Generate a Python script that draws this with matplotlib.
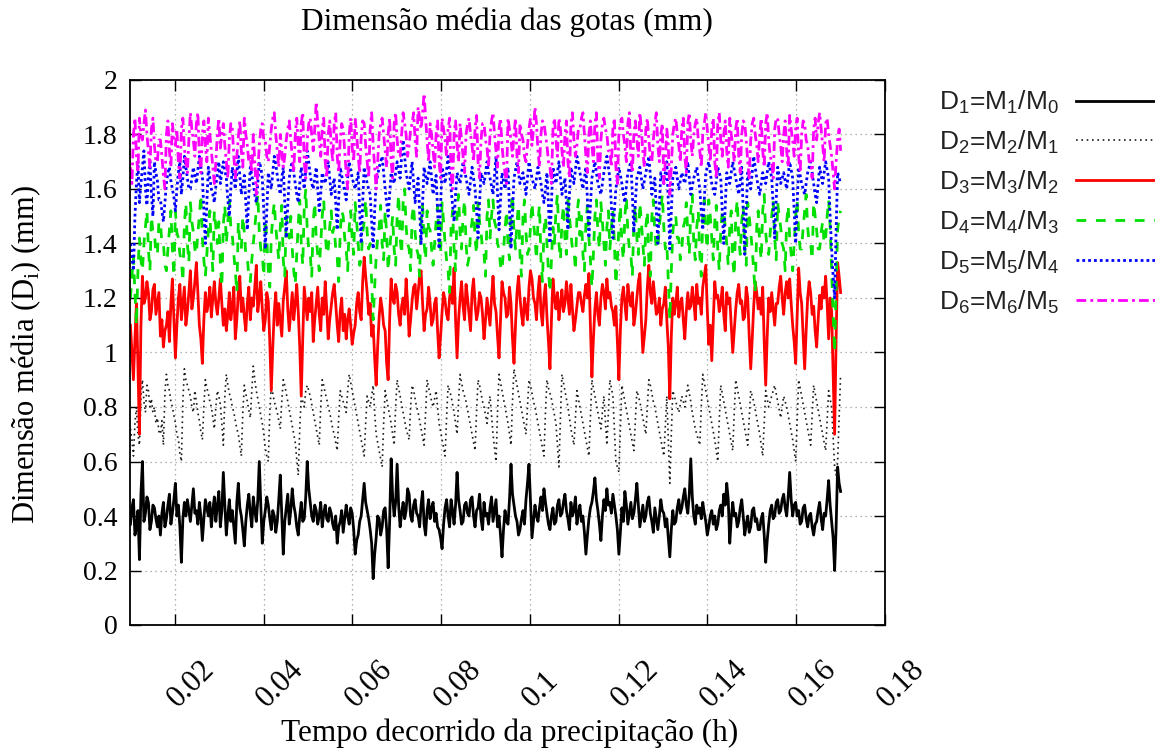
import numpy as np
import matplotlib
matplotlib.use("Agg")
import matplotlib.pyplot as plt
from matplotlib.transforms import blended_transform_factory, ScaledTranslation

# Elapsed-time span of the record (hours)
T_START = 0.0100
T_END = 0.1700

# Mean drop diameters D_i = M_i / M_(i-1)  (mm), equally spaced in time
d1 = [0.37, 0.43, 0.46, 0.33, 0.36, 0.42, 0.24, 0.48, 0.60, 0.38, 0.41, 0.47, 0.45, 0.35, 0.38, 0.44, 0.43, 0.39, 0.36, 0.40,
      0.33, 0.41, 0.45, 0.36, 0.39, 0.44, 0.48, 0.37, 0.41, 0.46, 0.52, 0.40, 0.44, 0.36, 0.23, 0.39, 0.45, 0.40, 0.46, 0.42,
      0.38, 0.44, 0.50, 0.41, 0.42, 0.37, 0.45, 0.40, 0.31, 0.39, 0.46, 0.43, 0.40, 0.45, 0.36, 0.42, 0.47, 0.38, 0.44, 0.49,
      0.36, 0.42, 0.56, 0.44, 0.33, 0.40, 0.46, 0.38, 0.42, 0.36, 0.30, 0.45, 0.52, 0.43, 0.40, 0.35, 0.29, 0.38, 0.44, 0.48,
      0.41, 0.36, 0.47, 0.42, 0.38, 0.46, 0.60, 0.44, 0.30, 0.38, 0.42, 0.47, 0.44, 0.39, 0.35, 0.42, 0.40, 0.34, 0.38, 0.46,
      0.55, 0.40, 0.26, 0.38, 0.43, 0.48, 0.37, 0.42, 0.50, 0.44, 0.41, 0.36, 0.33, 0.40, 0.45, 0.38, 0.39, 0.47, 0.60, 0.50,
      0.45, 0.40, 0.38, 0.44, 0.42, 0.37, 0.40, 0.45, 0.36, 0.41, 0.44, 0.39, 0.38, 0.43, 0.41, 0.37, 0.35, 0.40, 0.30, 0.36,
      0.38, 0.42, 0.34, 0.39, 0.44, 0.40, 0.37, 0.43, 0.41, 0.35, 0.26, 0.31, 0.33, 0.38, 0.40, 0.46, 0.52, 0.45, 0.42, 0.39,
      0.35, 0.30, 0.17, 0.26, 0.32, 0.40, 0.39, 0.33, 0.36, 0.42, 0.43, 0.35, 0.21, 0.38, 0.61, 0.47, 0.40, 0.45, 0.59, 0.44,
      0.36, 0.41, 0.45, 0.39, 0.42, 0.50, 0.48, 0.40, 0.38, 0.44, 0.46, 0.41, 0.40, 0.36, 0.44, 0.49, 0.37, 0.33, 0.42, 0.46,
      0.39, 0.43, 0.45, 0.38, 0.41, 0.36, 0.35, 0.32, 0.28, 0.37, 0.43, 0.46, 0.40, 0.36, 0.46, 0.42, 0.37, 0.44, 0.56, 0.46,
      0.42, 0.37, 0.38, 0.44, 0.45, 0.41, 0.40, 0.46, 0.47, 0.40, 0.36, 0.42, 0.43, 0.48, 0.39, 0.35, 0.45, 0.40, 0.41, 0.37,
      0.43, 0.47, 0.38, 0.42, 0.46, 0.36, 0.40, 0.33, 0.25, 0.35, 0.42, 0.38, 0.37, 0.46, 0.59, 0.48, 0.44, 0.40, 0.38, 0.33,
      0.35, 0.39, 0.42, 0.37, 0.46, 0.52, 0.59, 0.45, 0.32, 0.38, 0.44, 0.40, 0.38, 0.43, 0.47, 0.42, 0.50, 0.45, 0.41, 0.37,
      0.35, 0.40, 0.43, 0.37, 0.38, 0.44, 0.46, 0.40, 0.41, 0.45, 0.48, 0.42, 0.39, 0.35, 0.45, 0.40, 0.42, 0.47, 0.37, 0.41,
      0.44, 0.38, 0.40, 0.34, 0.26, 0.33, 0.39, 0.43, 0.45, 0.49, 0.54, 0.46, 0.42, 0.37, 0.31, 0.40, 0.46, 0.42, 0.50, 0.44,
      0.45, 0.41, 0.48, 0.44, 0.40, 0.35, 0.26, 0.34, 0.43, 0.38, 0.49, 0.44, 0.37, 0.41, 0.45, 0.39, 0.41, 0.46, 0.52, 0.44,
      0.36, 0.40, 0.44, 0.38, 0.40, 0.45, 0.47, 0.41, 0.38, 0.34, 0.43, 0.39, 0.35, 0.40, 0.46, 0.42, 0.41, 0.36, 0.39, 0.32,
      0.25, 0.35, 0.42, 0.37, 0.38, 0.43, 0.46, 0.41, 0.43, 0.47, 0.50, 0.44, 0.41, 0.48, 0.61, 0.47, 0.40, 0.37, 0.44, 0.41,
      0.43, 0.39, 0.45, 0.41, 0.38, 0.33, 0.36, 0.40, 0.42, 0.37, 0.40, 0.35, 0.37, 0.42, 0.44, 0.40, 0.48, 0.44, 0.52, 0.46,
      0.30, 0.39, 0.45, 0.40, 0.41, 0.36, 0.38, 0.43, 0.46, 0.40, 0.33, 0.37, 0.40, 0.34, 0.36, 0.42, 0.43, 0.38, 0.39, 0.35,
      0.35, 0.39, 0.41, 0.33, 0.23, 0.31, 0.37, 0.42, 0.44, 0.39, 0.40, 0.45, 0.46, 0.41, 0.42, 0.46, 0.48, 0.43, 0.40, 0.47,
      0.56, 0.46, 0.40, 0.44, 0.45, 0.40, 0.42, 0.37, 0.38, 0.43, 0.44, 0.39, 0.36, 0.40, 0.41, 0.36, 0.33, 0.37, 0.38, 0.42,
      0.45, 0.39, 0.35, 0.41, 0.40, 0.46, 0.53, 0.44, 0.38, 0.32, 0.20, 0.36, 0.58, 0.52, 0.49]

d2 = [0.72, 0.68, 0.62, 0.74, 0.80, 0.70, 0.66, 0.84, 0.90, 0.82, 0.78, 0.88, 0.86, 0.80, 0.83, 0.78, 0.80, 0.74, 0.76, 0.71,
      0.70, 0.75, 0.66, 0.85, 0.92, 0.88, 0.86, 0.82, 0.80, 0.77, 0.74, 0.70, 0.68, 0.63, 0.60, 0.82, 0.94, 0.90, 0.88, 0.86,
      0.84, 0.80, 0.78, 0.86, 0.82, 0.78, 0.75, 0.71, 0.68, 0.80, 0.90, 0.87, 0.85, 0.82, 0.80, 0.76, 0.72, 0.80, 0.86, 0.84,
      0.81, 0.74, 0.66, 0.84, 0.92, 0.88, 0.85, 0.83, 0.80, 0.78, 0.75, 0.72, 0.70, 0.66, 0.62, 0.78, 0.88, 0.85, 0.82, 0.79,
      0.76, 0.86, 0.95, 0.90, 0.86, 0.83, 0.80, 0.77, 0.74, 0.70, 0.65, 0.62, 0.60, 0.78, 0.88, 0.85, 0.82, 0.80, 0.78, 0.75,
      0.72, 0.82, 0.90, 0.88, 0.85, 0.82, 0.79, 0.76, 0.73, 0.70, 0.67, 0.61, 0.55, 0.72, 0.84, 0.82, 0.80, 0.86, 0.88, 0.86,
      0.84, 0.81, 0.78, 0.75, 0.72, 0.69, 0.66, 0.80, 0.90, 0.88, 0.85, 0.83, 0.80, 0.78, 0.75, 0.72, 0.70, 0.67, 0.64, 0.76,
      0.86, 0.84, 0.82, 0.80, 0.78, 0.86, 0.92, 0.89, 0.86, 0.83, 0.80, 0.77, 0.74, 0.71, 0.68, 0.65, 0.62, 0.74, 0.84, 0.82,
      0.80, 0.84, 0.88, 0.78, 0.70, 0.67, 0.64, 0.61, 0.58, 0.74, 0.86, 0.83, 0.80, 0.77, 0.74, 0.70, 0.66, 0.80, 0.90, 0.87,
      0.84, 0.81, 0.78, 0.75, 0.72, 0.70, 0.68, 0.80, 0.88, 0.86, 0.83, 0.80, 0.78, 0.75, 0.72, 0.69, 0.66, 0.78, 0.90, 0.87,
      0.85, 0.82, 0.80, 0.83, 0.86, 0.80, 0.74, 0.71, 0.68, 0.65, 0.62, 0.76, 0.88, 0.86, 0.84, 0.81, 0.78, 0.74, 0.70, 0.82,
      0.92, 0.89, 0.86, 0.84, 0.82, 0.79, 0.76, 0.73, 0.70, 0.67, 0.64, 0.78, 0.90, 0.88, 0.85, 0.82, 0.80, 0.77, 0.74, 0.80,
      0.84, 0.77, 0.70, 0.65, 0.60, 0.78, 0.92, 0.89, 0.86, 0.83, 0.80, 0.77, 0.74, 0.70, 0.66, 0.82, 0.94, 0.91, 0.88, 0.85,
      0.82, 0.79, 0.76, 0.73, 0.70, 0.80, 0.90, 0.88, 0.85, 0.82, 0.80, 0.77, 0.74, 0.71, 0.68, 0.65, 0.62, 0.78, 0.90, 0.87,
      0.85, 0.83, 0.80, 0.77, 0.74, 0.66, 0.58, 0.76, 0.92, 0.89, 0.86, 0.83, 0.80, 0.76, 0.72, 0.69, 0.66, 0.76, 0.86, 0.83,
      0.80, 0.77, 0.74, 0.71, 0.68, 0.65, 0.62, 0.76, 0.90, 0.87, 0.84, 0.81, 0.78, 0.75, 0.72, 0.78, 0.84, 0.75, 0.66, 0.78,
      0.90, 0.87, 0.84, 0.72, 0.60, 0.58, 0.56, 0.72, 0.88, 0.85, 0.82, 0.79, 0.76, 0.73, 0.70, 0.67, 0.64, 0.75, 0.86, 0.84,
      0.82, 0.79, 0.76, 0.73, 0.70, 0.80, 0.90, 0.88, 0.85, 0.82, 0.80, 0.77, 0.74, 0.71, 0.68, 0.65, 0.62, 0.73, 0.84, 0.68,
      0.52, 0.70, 0.86, 0.84, 0.82, 0.80, 0.78, 0.81, 0.84, 0.82, 0.80, 0.84, 0.88, 0.85, 0.82, 0.78, 0.75, 0.72, 0.70, 0.68,
      0.66, 0.80, 0.92, 0.89, 0.86, 0.83, 0.80, 0.77, 0.74, 0.71, 0.68, 0.64, 0.60, 0.75, 0.88, 0.85, 0.82, 0.79, 0.76, 0.73,
      0.70, 0.67, 0.64, 0.78, 0.90, 0.87, 0.84, 0.81, 0.78, 0.75, 0.72, 0.69, 0.66, 0.76, 0.86, 0.84, 0.82, 0.79, 0.76, 0.73,
      0.70, 0.66, 0.62, 0.74, 0.86, 0.83, 0.80, 0.82, 0.84, 0.86, 0.88, 0.85, 0.82, 0.79, 0.76, 0.80, 0.84, 0.82, 0.80, 0.77,
      0.74, 0.71, 0.68, 0.64, 0.60, 0.75, 0.90, 0.87, 0.84, 0.81, 0.78, 0.75, 0.72, 0.69, 0.66, 0.77, 0.88, 0.85, 0.82, 0.79,
      0.76, 0.73, 0.70, 0.67, 0.64, 0.75, 0.86, 0.83, 0.80, 0.69, 0.58, 0.55, 0.60, 0.76, 0.92]

d3 = [1.10, 1.00, 0.90, 1.05, 1.18, 0.95, 0.70, 1.10, 1.28, 1.18, 1.20, 1.26, 1.22, 1.12, 1.15, 1.23, 1.25, 1.14, 1.18, 1.22,
      1.06, 1.12, 1.02, 1.08, 1.10, 1.15, 1.04, 1.18, 1.27, 1.12, 0.98, 1.10, 1.20, 1.25, 1.12, 1.18, 1.24, 1.10, 1.15, 1.22,
      1.30, 1.16, 1.20, 1.26, 1.33, 1.22, 1.10, 1.05, 0.96, 1.12, 1.22, 1.15, 1.18, 1.24, 1.13, 1.20, 1.26, 1.18, 1.14, 1.20,
      1.27, 1.18, 1.10, 1.16, 1.08, 1.14, 1.22, 1.12, 1.17, 1.24, 1.05, 1.12, 1.22, 1.28, 1.15, 1.20, 1.13, 1.08, 1.18, 1.24,
      1.12, 1.20, 1.17, 1.24, 1.32, 1.15, 1.20, 1.26, 1.16, 1.08, 1.12, 1.22, 1.19, 1.04, 0.86, 1.02, 1.15, 1.22, 1.10, 1.18,
      1.12, 1.06, 1.19, 1.24, 1.30, 1.16, 1.08, 1.15, 1.22, 1.12, 1.18, 1.25, 1.15, 1.02, 0.84, 1.05, 1.24, 1.18, 1.12, 1.20,
      1.15, 1.22, 1.04, 1.12, 1.18, 1.24, 1.14, 1.08, 1.20, 1.14, 1.26, 1.16, 1.05, 1.12, 1.17, 1.22, 1.25, 1.18, 1.10, 1.04,
      1.15, 1.20, 1.08, 1.14, 1.05, 1.12, 1.16, 1.10, 1.03, 1.07, 1.10, 1.18, 1.22, 1.15, 1.12, 1.26, 1.35, 1.28, 1.22, 1.14,
      1.18, 1.06, 1.10, 0.98, 0.88, 1.02, 1.13, 1.20, 1.16, 1.10, 1.08, 0.96, 0.90, 1.12, 1.27, 1.20, 1.18, 1.25, 1.22, 1.14,
      1.10, 1.17, 1.20, 1.14, 1.27, 1.18, 1.06, 1.12, 1.19, 1.24, 1.25, 1.16, 1.22, 1.28, 1.30, 1.18, 1.08, 1.14, 1.16, 1.24,
      1.18, 1.10, 1.12, 1.18, 1.20, 1.08, 0.98, 1.06, 1.15, 1.22, 1.19, 1.14, 1.12, 1.20, 1.24, 1.18, 1.31, 1.12, 0.98, 1.12,
      1.20, 1.26, 1.17, 1.12, 1.25, 1.20, 1.14, 1.08, 1.22, 1.27, 1.18, 1.12, 1.15, 1.22, 1.20, 1.14, 1.05, 1.12, 1.20, 1.15,
      1.10, 1.20, 1.28, 1.18, 1.15, 1.06, 0.98, 1.12, 1.26, 1.22, 1.20, 1.13, 1.14, 1.24, 1.18, 1.05, 0.96, 1.10, 1.22, 1.28,
      1.20, 1.14, 1.10, 1.20, 1.16, 1.12, 1.24, 1.30, 1.27, 1.20, 1.18, 1.12, 1.22, 1.28, 1.15, 1.10, 1.20, 1.25, 1.13, 1.04,
      0.94, 1.12, 1.27, 1.20, 1.16, 1.22, 1.12, 1.18, 1.23, 1.15, 1.18, 1.26, 1.20, 1.14, 1.25, 1.16, 1.08, 1.12, 1.17, 1.22,
      1.22, 1.18, 1.15, 1.21, 1.25, 1.20, 1.29, 1.10, 0.91, 1.05, 1.16, 1.22, 1.14, 1.10, 1.20, 1.25, 1.22, 1.16, 1.27, 1.20,
      1.22, 1.17, 1.15, 1.10, 1.17, 1.04, 0.90, 1.08, 1.20, 1.24, 1.18, 1.12, 1.25, 1.20, 1.17, 1.22, 1.10, 1.14, 1.20, 1.26,
      1.29, 1.12, 1.00, 1.06, 1.12, 1.24, 1.32, 1.22, 1.18, 1.26, 1.20, 1.14, 1.15, 1.20, 1.10, 1.16, 1.18, 1.24, 1.12, 1.02,
      0.83, 1.06, 1.20, 1.14, 1.18, 1.24, 1.13, 1.18, 1.20, 1.12, 1.05, 1.15, 1.22, 1.16, 1.17, 1.24, 1.19, 1.12, 1.25, 1.18,
      1.20, 1.14, 1.24, 1.28, 1.32, 1.16, 1.03, 1.10, 0.97, 1.12, 1.26, 1.20, 1.21, 1.15, 1.18, 1.24, 1.14, 1.08, 1.22, 1.18,
      1.20, 1.10, 1.00, 1.08, 1.16, 1.22, 1.25, 1.18, 1.19, 1.12, 1.13, 1.24, 1.20, 1.06, 0.94, 1.05, 1.17, 1.26, 1.22, 1.16,
      1.20, 1.14, 1.24, 1.04, 0.88, 1.06, 1.20, 1.15, 1.22, 1.16, 1.10, 1.18, 1.18, 1.24, 1.28, 1.20, 1.14, 1.22, 1.26, 1.20,
      1.27, 1.18, 1.10, 1.04, 0.96, 1.14, 1.31, 1.22, 1.18, 1.06, 0.94, 1.08, 1.20, 1.26, 1.22, 1.14, 1.17, 1.08, 1.02, 1.12,
      1.21, 1.16, 1.24, 1.20, 1.28, 1.18, 1.05, 1.20, 1.15, 0.92, 0.70, 1.05, 1.33, 1.28, 1.22]

d4 = [1.20, 1.28, 1.35, 1.22, 1.10, 1.30, 1.42, 1.34, 1.30, 1.40, 1.46, 1.52, 1.38, 1.30, 1.50, 1.44, 1.44, 1.36, 1.36, 1.48,
      1.48, 1.40, 1.40, 1.32, 1.30, 1.38, 1.45, 1.52, 1.38, 1.28, 1.52, 1.44, 1.42, 1.36, 1.34, 1.26, 1.47, 1.55, 1.40, 1.33,
      1.55, 1.48, 1.44, 1.38, 1.36, 1.44, 1.50, 1.58, 1.42, 1.34, 1.28, 1.36, 1.45, 1.52, 1.38, 1.30, 1.52, 1.46, 1.40, 1.48,
      1.33, 1.24, 1.47, 1.54, 1.40, 1.48, 1.56, 1.46, 1.43, 1.36, 1.30, 1.22, 1.48, 1.40, 1.38, 1.50, 1.44, 1.36, 1.35, 1.28,
      1.26, 1.34, 1.40, 1.46, 1.52, 1.58, 1.44, 1.38, 1.36, 1.28, 1.49, 1.42, 1.30, 1.24, 1.42, 1.50, 1.55, 1.46, 1.40, 1.34,
      1.46, 1.54, 1.34, 1.28, 1.50, 1.44, 1.42, 1.50, 1.38, 1.30, 1.25, 1.36, 1.47, 1.56, 1.40, 1.32, 1.53, 1.60, 1.45, 1.38,
      1.36, 1.28, 1.48, 1.55, 1.42, 1.36, 1.30, 1.40, 1.50, 1.56, 1.44, 1.36, 1.38, 1.46, 1.52, 1.44, 1.46, 1.38, 1.35, 1.26,
      1.44, 1.52, 1.50, 1.42, 1.38, 1.30, 1.46, 1.52, 1.42, 1.36, 1.55, 1.48, 1.40, 1.32, 1.34, 1.44, 1.48, 1.56, 1.44, 1.38,
      1.40, 1.26, 1.12, 1.24, 1.35, 1.42, 1.46, 1.54, 1.40, 1.34, 1.52, 1.44, 1.30, 1.38, 1.44, 1.50, 1.38, 1.32, 1.50, 1.58,
      1.42, 1.36, 1.55, 1.60, 1.46, 1.40, 1.38, 1.30, 1.50, 1.54, 1.44, 1.38, 1.36, 1.28, 1.48, 1.54, 1.40, 1.34, 1.52, 1.46,
      1.45, 1.38, 1.32, 1.40, 1.48, 1.54, 1.42, 1.36, 1.55, 1.48, 1.40, 1.34, 1.30, 1.22, 1.46, 1.52, 1.38, 1.30, 1.52, 1.58,
      1.44, 1.38, 1.50, 1.56, 1.40, 1.32, 1.35, 1.44, 1.48, 1.54, 1.42, 1.36, 1.55, 1.48, 1.44, 1.38, 1.36, 1.28, 1.50, 1.56,
      1.42, 1.50, 1.56, 1.48, 1.46, 1.40, 1.38, 1.32, 1.30, 1.38, 1.45, 1.52, 1.40, 1.34, 1.52, 1.58, 1.44, 1.38, 1.48, 1.54,
      1.36, 1.28, 1.50, 1.56, 1.44, 1.36, 1.38, 1.46, 1.55, 1.48, 1.42, 1.34, 1.48, 1.54, 1.34, 1.26, 1.45, 1.50, 1.40, 1.30,
      1.22, 1.34, 1.46, 1.40, 1.52, 1.58, 1.40, 1.34, 1.48, 1.54, 1.42, 1.36, 1.56, 1.50, 1.44, 1.38, 1.38, 1.30, 1.50, 1.56,
      1.43, 1.50, 1.36, 1.30, 1.48, 1.54, 1.42, 1.34, 1.24, 1.36, 1.50, 1.56, 1.44, 1.38, 1.55, 1.48, 1.40, 1.32, 1.46, 1.52,
      1.38, 1.46, 1.52, 1.40, 1.25, 1.34, 1.46, 1.54, 1.40, 1.34, 1.50, 1.57, 1.44, 1.38, 1.36, 1.28, 1.48, 1.54, 1.42, 1.36,
      1.55, 1.48, 1.40, 1.32, 1.46, 1.52, 1.34, 1.28, 1.50, 1.56, 1.44, 1.38, 1.38, 1.46, 1.52, 1.58, 1.46, 1.38, 1.40, 1.26,
      1.12, 1.30, 1.44, 1.50, 1.50, 1.42, 1.42, 1.34, 1.38, 1.46, 1.48, 1.55, 1.44, 1.36, 1.52, 1.58, 1.40, 1.34, 1.46, 1.52,
      1.36, 1.28, 1.50, 1.56, 1.44, 1.38, 1.56, 1.50, 1.42, 1.34, 1.48, 1.54, 1.38, 1.30, 1.45, 1.52, 1.52, 1.46, 1.40, 1.32,
      1.46, 1.52, 1.34, 1.28, 1.50, 1.56, 1.42, 1.36, 1.48, 1.54, 1.38, 1.32, 1.55, 1.50, 1.44, 1.38, 1.30, 1.22, 1.46, 1.52,
      1.40, 1.34, 1.52, 1.58, 1.44, 1.38, 1.36, 1.44, 1.50, 1.56, 1.42, 1.34, 1.55, 1.50, 1.46, 1.40, 1.38, 1.30, 1.48, 1.54,
      1.42, 1.36, 1.30, 1.40, 1.50, 1.56, 1.44, 1.38, 1.38, 1.46, 1.52, 1.58, 1.46, 1.40, 1.40, 1.34, 1.55, 1.50, 1.45, 1.38,
      1.38, 1.44, 1.48, 1.40, 1.42, 1.50, 1.56, 1.46, 1.30, 1.14, 1.00, 1.24, 1.45, 1.50, 1.52]

d5 = [1.40, 1.35, 1.30, 1.50, 1.62, 1.70, 1.55, 1.62, 1.68, 1.74, 1.60, 1.54, 1.65, 1.70, 1.58, 1.50, 1.70, 1.66, 1.63, 1.56,
      1.56, 1.52, 1.48, 1.55, 1.62, 1.66, 1.68, 1.63, 1.60, 1.57, 1.52, 1.60, 1.66, 1.70, 1.58, 1.64, 1.72, 1.68, 1.64, 1.60,
      1.60, 1.64, 1.68, 1.65, 1.62, 1.67, 1.72, 1.68, 1.65, 1.52, 1.40, 1.55, 1.68, 1.64, 1.60, 1.58, 1.55, 1.61, 1.66, 1.70,
      1.62, 1.66, 1.70, 1.67, 1.64, 1.56, 1.50, 1.60, 1.68, 1.64, 1.60, 1.66, 1.72, 1.65, 1.58, 1.62, 1.65, 1.55, 1.45, 1.58,
      1.68, 1.65, 1.62, 1.58, 1.55, 1.62, 1.70, 1.68, 1.64, 1.52, 1.38, 1.52, 1.66, 1.63, 1.60, 1.66, 1.72, 1.69, 1.65, 1.61,
      1.58, 1.64, 1.68, 1.55, 1.42, 1.54, 1.64, 1.68, 1.70, 1.66, 1.62, 1.58, 1.55, 1.62, 1.68, 1.64, 1.60, 1.67, 1.74, 1.70,
      1.65, 1.62, 1.60, 1.64, 1.68, 1.60, 1.52, 1.58, 1.66, 1.64, 1.62, 1.66, 1.70, 1.64, 1.58, 1.61, 1.64, 1.55, 1.45, 1.56,
      1.68, 1.65, 1.62, 1.59, 1.56, 1.64, 1.70, 1.67, 1.64, 1.62, 1.60, 1.63, 1.66, 1.52, 1.40, 1.55, 1.68, 1.65, 1.62, 1.60,
      1.58, 1.48, 1.38, 1.52, 1.62, 1.65, 1.68, 1.70, 1.72, 1.66, 1.60, 1.55, 1.50, 1.58, 1.66, 1.64, 1.62, 1.66, 1.70, 1.67,
      1.64, 1.72, 1.78, 1.72, 1.66, 1.63, 1.60, 1.65, 1.70, 1.62, 1.55, 1.60, 1.64, 1.52, 1.40, 1.55, 1.68, 1.65, 1.62, 1.66,
      1.70, 1.64, 1.58, 1.62, 1.65, 1.52, 1.38, 1.54, 1.68, 1.65, 1.62, 1.67, 1.72, 1.66, 1.60, 1.54, 1.48, 1.58, 1.66, 1.64,
      1.62, 1.66, 1.70, 1.67, 1.64, 1.61, 1.58, 1.63, 1.68, 1.64, 1.60, 1.52, 1.42, 1.55, 1.66, 1.64, 1.62, 1.66, 1.70, 1.66,
      1.64, 1.61, 1.58, 1.65, 1.72, 1.58, 1.45, 1.56, 1.66, 1.63, 1.60, 1.64, 1.68, 1.52, 1.38, 1.52, 1.64, 1.67, 1.70, 1.66,
      1.62, 1.64, 1.66, 1.62, 1.58, 1.64, 1.70, 1.67, 1.64, 1.62, 1.60, 1.64, 1.68, 1.65, 1.62, 1.58, 1.55, 1.60, 1.66, 1.54,
      1.40, 1.55, 1.68, 1.65, 1.62, 1.66, 1.70, 1.64, 1.58, 1.61, 1.64, 1.55, 1.45, 1.58, 1.68, 1.65, 1.62, 1.67, 1.72, 1.69,
      1.66, 1.63, 1.60, 1.64, 1.68, 1.56, 1.42, 1.54, 1.64, 1.67, 1.70, 1.66, 1.62, 1.60, 1.58, 1.62, 1.66, 1.69, 1.72, 1.68,
      1.64, 1.54, 1.42, 1.52, 1.60, 1.64, 1.68, 1.65, 1.62, 1.58, 1.55, 1.61, 1.66, 1.68, 1.70, 1.58, 1.44, 1.55, 1.64, 1.66,
      1.68, 1.64, 1.60, 1.63, 1.66, 1.69, 1.72, 1.65, 1.58, 1.61, 1.64, 1.52, 1.40, 1.54, 1.66, 1.64, 1.62, 1.66, 1.70, 1.55,
      1.38, 1.52, 1.64, 1.66, 1.68, 1.64, 1.60, 1.63, 1.66, 1.64, 1.62, 1.66, 1.70, 1.64, 1.58, 1.61, 1.64, 1.66, 1.68, 1.64,
      1.60, 1.52, 1.45, 1.56, 1.66, 1.68, 1.70, 1.66, 1.62, 1.60, 1.58, 1.63, 1.68, 1.66, 1.64, 1.52, 1.40, 1.54, 1.66, 1.64,
      1.62, 1.66, 1.70, 1.67, 1.64, 1.61, 1.58, 1.63, 1.68, 1.52, 1.36, 1.52, 1.66, 1.63, 1.60, 1.66, 1.72, 1.68, 1.64, 1.61,
      1.58, 1.62, 1.66, 1.64, 1.62, 1.66, 1.70, 1.67, 1.64, 1.54, 1.42, 1.56, 1.68, 1.65, 1.62, 1.64, 1.66, 1.63, 1.60, 1.65,
      1.70, 1.67, 1.64, 1.52, 1.40, 1.55, 1.68, 1.65, 1.62, 1.60, 1.58, 1.62, 1.66, 1.68, 1.70, 1.66, 1.62, 1.58, 1.55, 1.62,
      1.68, 1.65, 1.62, 1.66, 1.70, 1.67, 1.64, 1.50, 1.38, 1.28, 1.20, 1.45, 1.66, 1.64, 1.62]

d6 = [1.68, 1.62, 1.80, 1.86, 1.72, 1.66, 1.86, 1.80, 1.78, 1.84, 1.89, 1.80, 1.74, 1.68, 1.82, 1.86, 1.76, 1.70, 1.70, 1.78,
      1.78, 1.72, 1.65, 1.60, 1.80, 1.85, 1.74, 1.68, 1.84, 1.78, 1.76, 1.82, 1.70, 1.64, 1.82, 1.86, 1.75, 1.70, 1.66, 1.78,
      1.88, 1.82, 1.78, 1.72, 1.84, 1.88, 1.72, 1.66, 1.80, 1.85, 1.76, 1.70, 1.86, 1.80, 1.74, 1.68, 1.62, 1.70, 1.80, 1.86,
      1.75, 1.80, 1.84, 1.76, 1.70, 1.64, 1.78, 1.84, 1.82, 1.72, 1.64, 1.72, 1.79, 1.85, 1.74, 1.68, 1.86, 1.80, 1.76, 1.70,
      1.72, 1.66, 1.80, 1.70, 1.58, 1.66, 1.76, 1.82, 1.84, 1.78, 1.78, 1.72, 1.70, 1.76, 1.82, 1.86, 1.88, 1.80, 1.74, 1.68,
      1.80, 1.74, 1.68, 1.72, 1.78, 1.82, 1.85, 1.78, 1.72, 1.66, 1.80, 1.86, 1.76, 1.70, 1.84, 1.88, 1.70, 1.64, 1.78, 1.84,
      1.86, 1.80, 1.74, 1.82, 1.92, 1.84, 1.78, 1.72, 1.82, 1.86, 1.70, 1.64, 1.80, 1.85, 1.76, 1.70, 1.84, 1.88, 1.72, 1.66,
      1.78, 1.84, 1.82, 1.74, 1.66, 1.60, 1.80, 1.86, 1.75, 1.70, 1.86, 1.80, 1.72, 1.66, 1.79, 1.85, 1.84, 1.76, 1.70, 1.64,
      1.82, 1.88, 1.76, 1.68, 1.60, 1.70, 1.80, 1.84, 1.86, 1.80, 1.74, 1.68, 1.80, 1.86, 1.70, 1.64, 1.84, 1.88, 1.78, 1.72,
      1.72, 1.80, 1.88, 1.84, 1.80, 1.72, 1.76, 1.82, 1.84, 1.88, 1.78, 1.72, 1.90, 1.86, 1.82, 1.88, 1.95, 1.86, 1.78, 1.70,
      1.84, 1.80, 1.74, 1.68, 1.80, 1.85, 1.70, 1.64, 1.86, 1.82, 1.78, 1.72, 1.82, 1.86, 1.66, 1.60, 1.80, 1.85, 1.76, 1.70,
      1.84, 1.78, 1.72, 1.66, 1.80, 1.84, 1.86, 1.80, 1.76, 1.70, 1.82, 1.87, 1.70, 1.64, 1.78, 1.84, 1.84, 1.78, 1.75, 1.68,
      1.80, 1.85, 1.88, 1.80, 1.74, 1.68, 1.82, 1.86, 1.76, 1.70, 1.66, 1.62, 1.86, 1.82, 1.78, 1.72, 1.80, 1.86, 1.72, 1.66,
      1.84, 1.80, 1.78, 1.72, 1.70, 1.76, 1.82, 1.86, 1.76, 1.82, 1.90, 1.84, 1.74, 1.68, 1.80, 1.85, 1.84, 1.80, 1.76, 1.70,
      1.68, 1.62, 1.82, 1.86, 1.78, 1.72, 1.86, 1.82, 1.74, 1.68, 1.80, 1.85, 1.70, 1.64, 1.84, 1.88, 1.78, 1.72, 1.76, 1.82,
      1.82, 1.86, 1.88, 1.80, 1.72, 1.66, 1.80, 1.85, 1.76, 1.70, 1.84, 1.88, 1.70, 1.64, 1.78, 1.84, 1.86, 1.82, 1.80, 1.74,
      1.74, 1.68, 1.82, 1.86, 1.68, 1.62, 1.80, 1.84, 1.86, 1.80, 1.76, 1.70, 1.84, 1.88, 1.72, 1.66, 1.80, 1.85, 1.78, 1.72,
      1.88, 1.82, 1.74, 1.68, 1.82, 1.86, 1.78, 1.72, 1.70, 1.78, 1.84, 1.88, 1.76, 1.70, 1.80, 1.84, 1.62, 1.70, 1.82, 1.76,
      1.58, 1.68, 1.80, 1.84, 1.86, 1.80, 1.76, 1.70, 1.82, 1.86, 1.72, 1.66, 1.84, 1.88, 1.78, 1.72, 1.80, 1.84, 1.86, 1.78,
      1.74, 1.68, 1.80, 1.84, 1.88, 1.82, 1.76, 1.70, 1.82, 1.86, 1.70, 1.64, 1.84, 1.88, 1.78, 1.72, 1.80, 1.85, 1.74, 1.68,
      1.86, 1.80, 1.76, 1.70, 1.82, 1.86, 1.72, 1.66, 1.80, 1.85, 1.84, 1.78, 1.70, 1.64, 1.78, 1.84, 1.86, 1.80, 1.76, 1.70,
      1.80, 1.86, 1.74, 1.68, 1.84, 1.88, 1.78, 1.72, 1.70, 1.64, 1.82, 1.86, 1.86, 1.80, 1.76, 1.70, 1.80, 1.85, 1.74, 1.68,
      1.87, 1.82, 1.78, 1.72, 1.82, 1.86, 1.72, 1.66, 1.80, 1.85, 1.84, 1.78, 1.76, 1.70, 1.70, 1.64, 1.82, 1.86, 1.78, 1.84,
      1.88, 1.82, 1.76, 1.70, 1.84, 1.86, 1.80, 1.76, 1.72, 1.66, 1.60, 1.70, 1.78, 1.82, 1.74]

labels = ["D$_\\mathregular{1}$=M$_\\mathregular{1}$/M$_\\mathregular{0}$",
          "D$_\\mathregular{2}$=M$_\\mathregular{2}$/M$_\\mathregular{1}$",
          "D$_\\mathregular{3}$=M$_\\mathregular{3}$/M$_\\mathregular{2}$",
          "D$_\\mathregular{4}$=M$_\\mathregular{4}$/M$_\\mathregular{3}$",
          "D$_\\mathregular{5}$=M$_\\mathregular{5}$/M$_\\mathregular{4}$",
          "D$_\\mathregular{6}$=M$_\\mathregular{6}$/M$_\\mathregular{5}$"]

x_ticks = [0.02, 0.04, 0.06, 0.08, 0.10, 0.12, 0.14, 0.16, 0.18]
x_tick_labels = ["0.02", "0.04", "0.06", "0.08", "0.1", "0.12", "0.14", "0.16", "0.18"]
y_ticks = [0.0, 0.2, 0.4, 0.6, 0.8, 1.0, 1.2, 1.4, 1.6, 1.8, 2.0]
y_tick_labels = ["0", "0.2", "0.4", "0.6", "0.8", "1", "1.2", "1.4", "1.6", "1.8", "2"]

SERIF = "Liberation Serif"
SANS = "Liberation Sans"

W, H = 1155, 754
fig = plt.figure(figsize=(W / 100, H / 100), dpi=100)
ax = fig.add_axes([130 / W, 1 - 625 / H, (885 - 130) / W, (625 - 80) / H])

styles = [
    dict(color="black", lw=2.0, ls="-"),
    dict(color="#1a1a1a", lw=1.2, ls=(0, (1.0, 2.2))),
    dict(color="#ff0000", lw=2.0, ls="-"),
    dict(color="#00e000", lw=2.0, ls=(0, (3.5, 3.5))),
    dict(color="#0000ff", lw=2.0, ls=(0, (1.0, 1.1))),
    dict(color="#ff00ff", lw=2.0, ls=(0, (3.5, 1.5, 1.0, 1.5))),
]

series = [d1, d2, d3, d4, d5, d6]
handles = []
for vals, st, lab in zip(series, styles, labels):
    t = np.linspace(T_START, T_END, len(vals))
    (ln,) = ax.plot(t, vals, label=lab, **st)
    handles.append(ln)

ax.set_xlim(0.0099, 0.18)
ax.set_ylim(0, 2)
ax.set_xticks(x_ticks)
ax.set_xticklabels([])
ax.set_yticks(y_ticks)
ax.set_yticklabels(y_tick_labels, fontfamily=SERIF, fontsize=20)
ax.tick_params(axis="both", direction="in", length=8, width=1.0,
               top=True, right=True)
ax.tick_params(axis="y", pad=9)
ax.grid(True, color="#9a9a9a", lw=0.9, ls=(0, (1, 3)))
for sp in ax.spines.values():
    sp.set_linewidth(1.3)

# rotated x tick labels, starting just below each tick and running upward
trans = blended_transform_factory(ax.transData, ax.transAxes) + \
    ScaledTranslation(-2 / 100, -78 / 100, fig.dpi_scale_trans)
for xv, lab in zip(x_ticks, x_tick_labels):
    ax.text(xv, 0, lab, transform=trans, rotation=45, rotation_mode="anchor",
            ha="left", va="center", fontfamily=SERIF, fontsize=22,
            clip_on=False)

fig.text(507 / W, 1 - 22 / H, "Dimensão média das gotas (mm)",
         ha="center", va="center", fontfamily=SERIF, fontsize=22.5)
fig.text(510 / W, 1 - 733 / H, "Tempo decorrido da precipitação (h)",
         ha="center", va="center", fontfamily=SERIF, fontsize=22.5)
fig.text(26 / W, 1 - 355 / H, "Dimensão média (D$_\\mathregular{i}$) (mm)",
         ha="center", va="center", rotation=90, fontfamily=SERIF, fontsize=22)

leg = fig.legend(handles=handles, loc="upper left",
                 bbox_to_anchor=(915 / W, 1 - 65 / H), frameon=False,
                 markerfirst=False, handlelength=3.0, handletextpad=0.65,
                 labelspacing=0.47, prop=dict(family=SANS, size=19))
for txt in leg.get_texts():
    txt.set_color("#222222")

fig.savefig("out.png", dpi=100)
